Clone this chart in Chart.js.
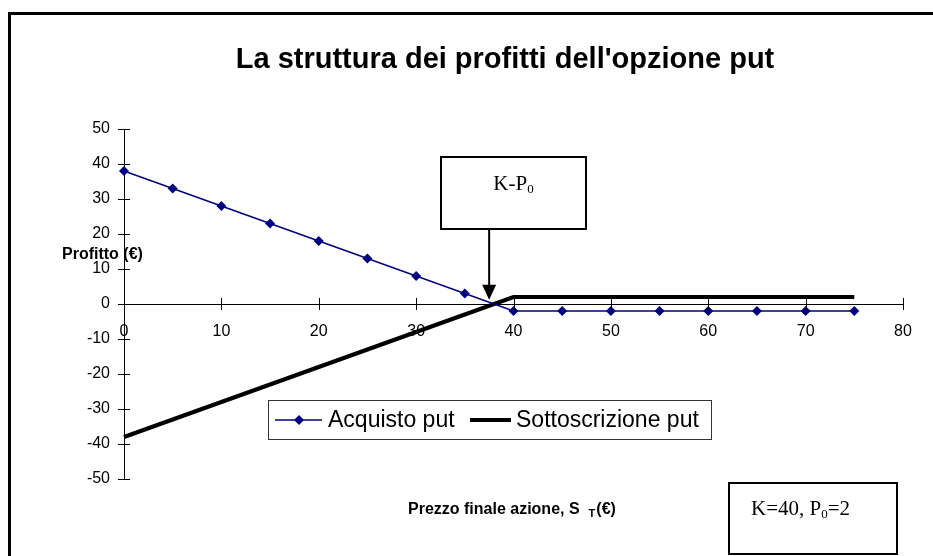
<!DOCTYPE html>
<html>
<head>
<meta charset="utf-8">
<script src="https://cdn.jsdelivr.net/npm/chart.js@4"></script>
<style>
  html, body { margin: 0; padding: 0; background: #fff; }
  #wrap { width: 933px; height: 556px; position: relative; }
</style>
</head>
<body>
<div id="wrap"><canvas id="putChart"></canvas></div>
<script>
// prezzo finale dell'azione (asse x)
const prices = [0, 5, 10, 15, 20, 25, 30, 35, 40, 45, 50, 55, 60, 65, 70, 75];
// profitto acquisto put (K=40, P0=2)
const acquistoPut = [38, 33, 28, 23, 18, 13, 8, 3, -2, -2, -2, -2, -2, -2, -2, -2];
// profitto sottoscrizione put
const sottoscrizionePut = [-38, -33, -28, -23, -18, -13, -8, -3, 2, 2, 2, 2, 2, 2, 2, 2];
const seriesLabels = ['Acquisto put', 'Sottoscrizione put'];
const chartTitle = "La struttura dei profitti dell'opzione put";
const yTitle = 'Profitto (€)';

// punto indicato dalla freccia K-P0 (in unità dei dati)
const breakEven = { x: 37.5, y: 1.2 };

const NAVY = '#000080';
const SANS = '"Liberation Sans", Arial, sans-serif';
const SERIF = '"Liberation Serif", "Times New Roman", serif';

function toPoints(xs, ys) {
    return xs.map((x, i) => ({ x: x, y: ys[i] }));
}

// tacche che attraversano gli assi (stile Excel)
const crossTicks = {
    id: 'crossTicks',
    afterDraw(chart) {
        const ctx = chart.ctx;
        const xs = chart.scales.x, ys = chart.scales.y;
        const x0 = xs.getPixelForValue(0);
        const y0 = ys.getPixelForValue(0);
        ctx.save();
        ctx.strokeStyle = '#000';
        ctx.lineWidth = 1;
        ctx.beginPath();
        xs.ticks.forEach(t => {
            const px = Math.round(xs.getPixelForValue(t.value)) + 0.5;
            ctx.moveTo(px, y0 - 6);
            ctx.lineTo(px, y0 + 6);
        });
        ys.ticks.forEach(t => {
            const py = Math.round(ys.getPixelForValue(t.value)) + 0.5;
            ctx.moveTo(x0 - 6, py);
            ctx.lineTo(x0 + 6, py);
        });
        ctx.stroke();
        ctx.restore();
    }
};

const decorations = {
    id: 'decorations',
    afterDraw(chart) {
        const ctx = chart.ctx;
        const xs = chart.scales.x, ys = chart.scales.y;
        ctx.save();

        // cornice esterna
        ctx.strokeStyle = '#000';
        ctx.lineWidth = 3;
        ctx.beginPath();
        ctx.moveTo(9.5, 560);
        ctx.lineTo(9.5, 13.5);
        ctx.lineTo(940, 13.5);
        ctx.stroke();

        // titolo
        ctx.fillStyle = '#000';
        ctx.font = 'bold 29px ' + SANS;
        ctx.textAlign = 'center';
        ctx.textBaseline = 'middle';
        ctx.fillText(chartTitle, 505, 60);

        // titolo asse y
        ctx.font = 'bold 16px ' + SANS;
        ctx.textAlign = 'left';
        ctx.fillText(yTitle, 62, 255);

        // titolo asse x con pedice
        ctx.textBaseline = 'alphabetic';
        let tx = 408;
        const base = 514;
        const part1 = 'Prezzo finale azione, S';
        ctx.fillText(part1, tx, base);
        tx += ctx.measureText(part1).width + 9;
        ctx.font = 'bold 11px ' + SANS;
        ctx.fillText('T', tx, base + 3);
        tx += ctx.measureText('T').width + 1;
        ctx.font = 'bold 16px ' + SANS;
        ctx.fillText('(€)', tx, base);

        // box K-P0 con freccia
        const bx = xs.getPixelForValue(breakEven.x);
        const tipY = ys.getPixelForValue(breakEven.y);
        ctx.lineWidth = 2;
        ctx.strokeRect(441, 157, 145, 72);
        ctx.font = '21px ' + SERIF;
        const kpW = ctx.measureText('K-P').width;
        ctx.font = '13px ' + SERIF;
        const subW = ctx.measureText('0').width;
        let kx = 513.5 - (kpW + subW) / 2;
        ctx.font = '21px ' + SERIF;
        ctx.fillText('K-P', kx, 190);
        ctx.font = '13px ' + SERIF;
        ctx.fillText('0', kx + kpW, 193);

        ctx.beginPath();
        ctx.moveTo(bx, 229);
        ctx.lineTo(bx, tipY - 12);
        ctx.stroke();
        ctx.beginPath();
        ctx.moveTo(bx - 7, tipY - 15);
        ctx.lineTo(bx + 7, tipY - 15);
        ctx.lineTo(bx, tipY);
        ctx.closePath();
        ctx.fill();

        // box K=40, P0=2
        ctx.strokeRect(729, 483, 168, 71);
        ctx.font = '21px ' + SERIF;
        let px = 751;
        ctx.fillText('K=40, P', px, 515);
        px += ctx.measureText('K=40, P').width;
        ctx.font = '13px ' + SERIF;
        ctx.fillText('0', px, 518);
        px += ctx.measureText('0').width;
        ctx.font = '21px ' + SERIF;
        ctx.fillText('=2', px, 515);

        // legenda
        const ds = chart.data.datasets;
        ctx.lineWidth = 1;
        ctx.strokeStyle = '#333';
        ctx.strokeRect(268.5, 400.5, 443, 39);
        const ly = 420;
        ctx.strokeStyle = ds[0].borderColor;
        ctx.lineWidth = ds[0].borderWidth;
        ctx.beginPath();
        ctx.moveTo(275, ly);
        ctx.lineTo(322, ly);
        ctx.stroke();
        ctx.fillStyle = ds[0].pointBackgroundColor;
        ctx.beginPath();
        ctx.moveTo(299, ly - 5);
        ctx.lineTo(304, ly);
        ctx.lineTo(299, ly + 5);
        ctx.lineTo(294, ly);
        ctx.closePath();
        ctx.fill();
        ctx.fillStyle = '#000';
        ctx.font = '23px ' + SANS;
        ctx.textBaseline = 'middle';
        ctx.fillText(ds[0].label, 328, ly + 1);
        ctx.strokeStyle = ds[1].borderColor;
        ctx.lineWidth = ds[1].borderWidth;
        ctx.beginPath();
        ctx.moveTo(470, ly);
        ctx.lineTo(511, ly);
        ctx.stroke();
        ctx.fillText(ds[1].label, 516, ly + 1);

        ctx.restore();
    }
};

const ctx = document.getElementById('putChart').getContext('2d');
new Chart(ctx, {
    type: 'line',
    data: {
        datasets: [{
            label: seriesLabels[0],
            data: toPoints(prices, acquistoPut),
            borderColor: NAVY,
            backgroundColor: NAVY,
            borderWidth: 1.5,
            pointStyle: 'rectRot',
            pointRadius: 5,
            pointBorderWidth: 0,
            pointBackgroundColor: NAVY,
            tension: 0,
            clip: false,
            order: 1
        }, {
            label: seriesLabels[1],
            data: toPoints(prices, sottoscrizionePut),
            borderColor: '#000',
            backgroundColor: '#000',
            borderWidth: 4,
            pointRadius: 0,
            tension: 0,
            clip: false,
            order: 2
        }]
    },
    options: {
        responsive: true,
        maintainAspectRatio: false,
        animation: false,
        layout: { padding: { left: 64, right: 30, top: 129, bottom: 77 } },
        plugins: {
            legend: { display: false },
            title: { display: false },
            tooltip: { enabled: false }
        },
        scales: {
            x: {
                type: 'linear',
                position: { y: 0 },
                min: 0,
                max: 80,
                grid: { drawOnChartArea: false, drawTicks: false },
                border: { display: true, color: '#000', width: 1 },
                ticks: {
                    stepSize: 10,
                    padding: 18,
                    color: '#000',
                    font: { family: SANS, size: 16 }
                }
            },
            y: {
                position: 'left',
                min: -50,
                max: 50,
                afterFit: function(scale) { scale.width = 60; },
                grid: { drawOnChartArea: false, drawTicks: false },
                border: { display: true, color: '#000', width: 1 },
                ticks: {
                    stepSize: 10,
                    padding: 14,
                    color: '#000',
                    font: { family: SANS, size: 16 }
                }
            }
        }
    },
    plugins: [crossTicks, decorations]
});
</script>
</body>
</html>
